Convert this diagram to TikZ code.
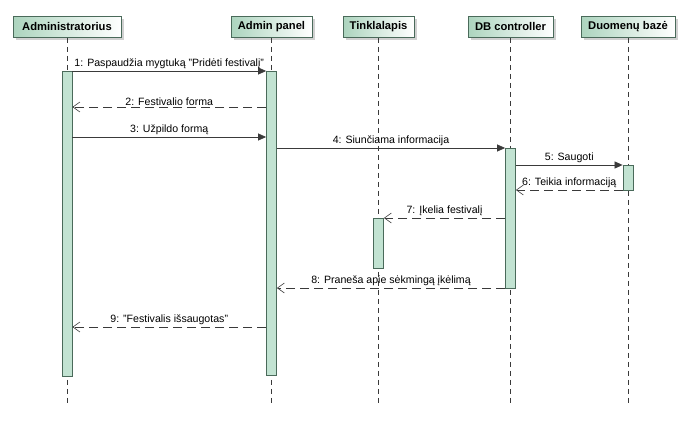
\documentclass[tikz,border=0pt]{standalone}
\usepackage{fontspec}
\setmainfont{Liberation Sans}
\usetikzlibrary{arrows.meta,shadows}
\definecolor{hdrgreen}{HTML}{ACD4BE}
\definecolor{bordc}{HTML}{4A6A5A}
\definecolor{actfill}{HTML}{C2E3D2}
\definecolor{linec}{HTML}{3A3A3A}
\begin{document}
\begin{tikzpicture}[x=1pt,y=-1pt,
  hdr/.style={draw=bordc, line width=0.8pt, left color=hdrgreen, right color=white,
    font=\fontsize{11.2}{13}\selectfont\bfseries, minimum height=21, inner xsep=0, anchor=north,
    drop shadow={shadow xshift=3pt, shadow yshift=-3pt, fill=black, opacity=0.18}},
  act/.style={draw=bordc, fill=actfill, line width=0.8pt, minimum width=10, inner sep=0, anchor=north},
  life/.style={draw=linec, line width=0.7pt, dash pattern=on 5pt off 4pt},
  msg/.style={draw=linec, line width=0.7pt, -{Triangle[length=8pt,width=7pt]}},
  ret/.style={draw=linec, line width=0.7pt, dash pattern=on 9pt off 5pt, -{Straight Barb[length=7pt,width=10pt,line width=0.6pt]}},
  lbl/.style={font=\fontsize{10.6}{12}\selectfont, above=0.5pt, inner sep=1pt, text=black}
]
\useasboundingbox[fill=white] (0,0) rectangle (687,423);
% headers
\node[hdr, minimum width=108] (hA) at (67,16) {Administratorius};
\node[hdr, minimum width=81] (hP) at (271.5,16) {Admin panel};
\node[hdr, minimum width=71] (hT) at (378.5,16) {Tinklalapis};
\node[hdr, minimum width=85] (hD) at (510.5,16) {DB controller};
\node[hdr, minimum width=94] (hB) at (628,16) {Duomenų bazė};
% lifeline ends
\coordinate (eA) at (hA.south |- 0,403);
\coordinate (eP) at (hP.south |- 0,403);
\coordinate (eT) at (hT.south |- 0,403);
\coordinate (eD) at (hD.south |- 0,403);
\coordinate (eB) at (hB.south |- 0,403);
\draw[life] (hA.south) -- (eA);
\draw[life] (hP.south) -- (eP);
\draw[life] (hT.south) -- (eT);
\draw[life] (hD.south) -- (eD);
\draw[life] (hB.south) -- (eB);
% activations
\node[act, minimum height=305] (aA) at (hA.south |- 0,71) {};
\node[act, minimum height=304] (aP) at (hP.south |- 0,71) {};
\node[act, minimum height=50] (aT) at (hT.south |- 0,218) {};
\node[act, minimum height=140] (aD) at (hD.south |- 0,148) {};
\node[act, minimum height=25] (aB) at (hB.south |- 0,165) {};
% messages
\draw[msg] (aA.east |- 0,71) -- node[lbl]{1: Paspaudžia mygtuką "Pridėti festivalį"} (aP.west |- 0,71);
\draw[ret] (aP.west |- 0,107) -- node[lbl]{2: Festivalio forma} (aA.east |- 0,107);
\draw[msg] (aA.east |- 0,137) -- node[lbl]{3: Užpildo formą} (aP.west |- 0,137);
\draw[msg] (aP.east |- 0,148) -- node[lbl]{4: Siunčiama informacija} (aD.west |- 0,148);
\draw[msg] (aD.east |- 0,165) -- node[lbl]{5: Saugoti} (aB.west |- 0,165);
\draw[ret] (aB.west |- 0,190) -- node[lbl]{6: Teikia informaciją} (aD.east |- 0,190);
\draw[ret] (aD.west |- 0,218) -- node[lbl]{7: Įkelia festivalį} (aT.east |- 0,218);
\draw[ret] (aD.west |- 0,288) -- node[lbl]{8: Praneša apie sėkmingą įkėlimą} (aP.east |- 0,288);
\draw[ret] (aP.west |- 0,327) -- node[lbl]{9: "Festivalis išsaugotas"} (aA.east |- 0,327);
\end{tikzpicture}
\end{document}
